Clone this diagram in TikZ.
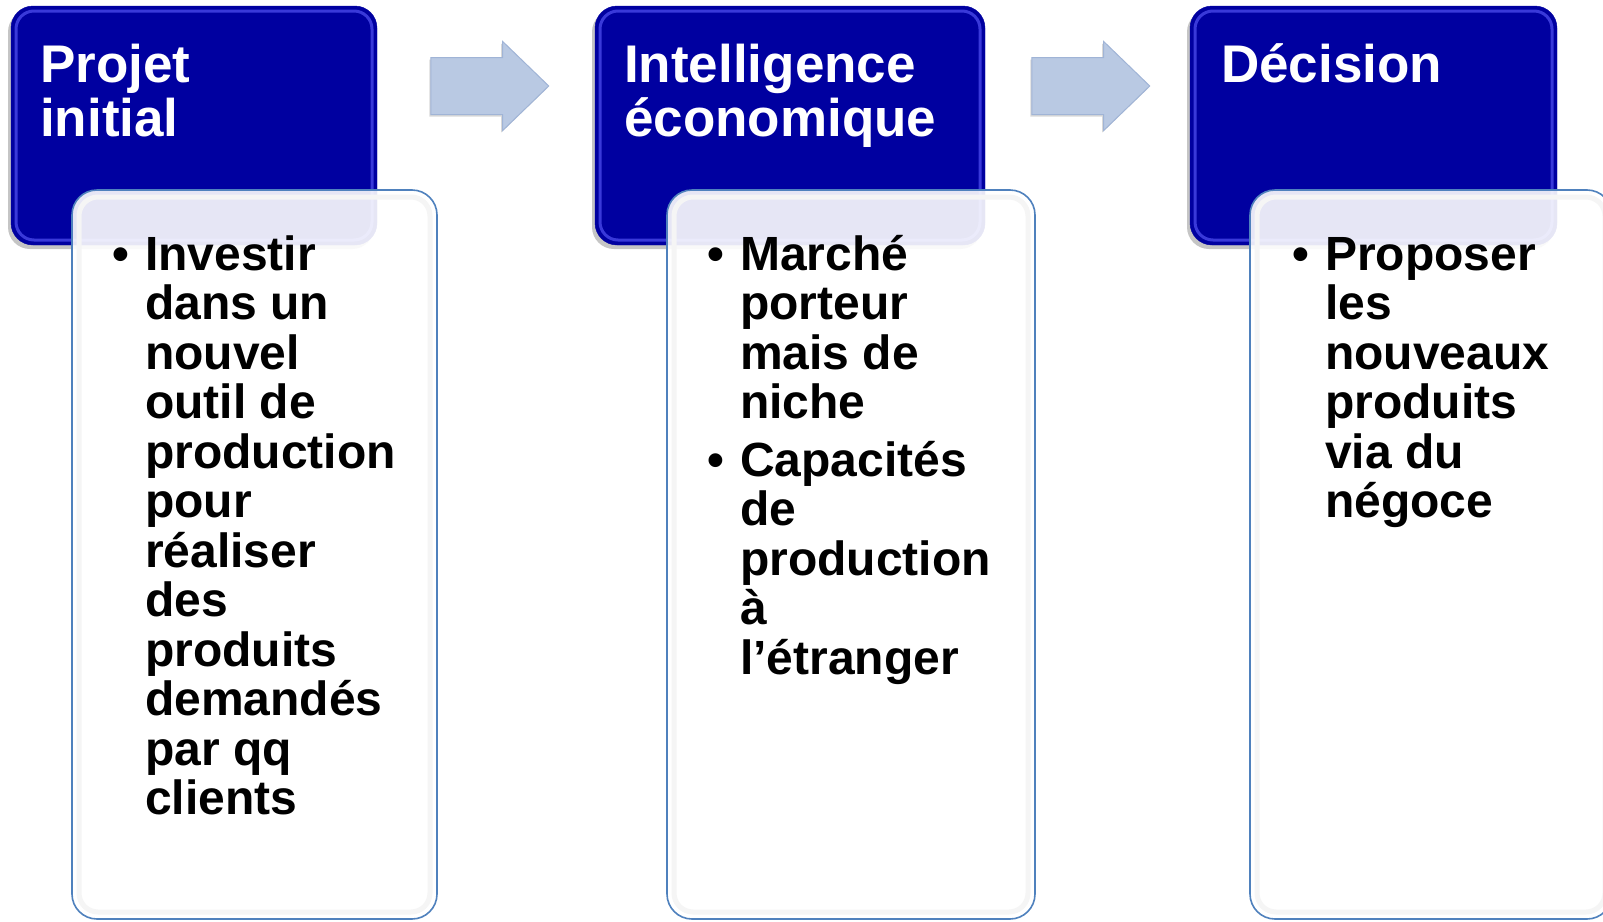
\documentclass[tikz,border=0pt]{standalone}
\usepackage{fontspec}
\setmainfont{Liberation Sans}
\usetikzlibrary{positioning,shapes.arrows,shadows}

\definecolor{navy}{RGB}{0,0,160}
\definecolor{navylight}{RGB}{95,95,255}
\definecolor{flowfill}{RGB}{185,201,227}
\definecolor{flowedge}{RGB}{160,180,214}
\definecolor{cardedge}{RGB}{79,129,189}

\newcommand{\bul}{\llap{\textbullet\hspace{16pt}}}

\begin{document}
\begin{tikzpicture}[x=1pt,y=-1pt]
\tikzstyle{stage}=[draw=navy,fill=navy,rounded corners=22pt,inner sep=0pt,outer sep=0pt,anchor=north west,minimum height=239pt,drop shadow={shadow xshift=-3pt,shadow yshift=-4pt,opacity=.45}]
\tikzstyle{bevel}=[draw=navylight,line width=3pt,rounded corners=18pt,opacity=.6]
\tikzstyle{title}=[text=white,font=\fontsize{53}{54}\selectfont\bfseries,align=left,inner sep=0pt,anchor=base west]
\tikzstyle{card}=[draw=cardedge,line width=1.6pt,fill=white,fill opacity=.9,rounded corners=25pt,inner sep=0pt,outer sep=0pt,minimum height=729pt]
\tikzstyle{glow}=[draw=black!4,line width=5pt,rounded corners=19pt]
\tikzstyle{body}=[font=\fontsize{48}{49.5}\selectfont\bfseries,align=left,inner sep=0pt,anchor=base west]
\tikzstyle{flow}=[single arrow,draw=flowedge,fill=flowfill,line width=1pt,minimum height=118pt,minimum width=88pt,single arrow head extend=16pt,single arrow tip angle=88,inner xsep=0pt,inner ysep=28pt,drop shadow={shadow xshift=-1.5pt,shadow yshift=-2pt,opacity=.3}]

\useasboundingbox[fill=white] (0,0) rectangle (1603,921);

% stages (a node's base is the baseline of its last line)
\node[stage,minimum width=366pt] (projet) at (11,6) {};
\node[stage,minimum width=390pt] (intel) at (595,6) {};
\node[stage,minimum width=367pt] (decision) at (1190,6) {};
\draw[bevel] ([shift={(5,5)}]projet.north west) rectangle ([shift={(-5,-5)}]projet.south east);
\draw[bevel] ([shift={(5,5)}]intel.north west) rectangle ([shift={(-5,-5)}]intel.south east);
\draw[bevel] ([shift={(5,5)}]decision.north west) rectangle ([shift={(-5,-5)}]decision.south east);

\node[title,below right=130pt and 29pt of projet.north west,anchor=base west] (projetT) {Projet\\initial};
\node[title,below right=130pt and 29pt of intel.north west,anchor=base west] (intelT) {Intelligence\\économique};
\node[title,below right=76pt and 31pt of decision.north west,anchor=base west] (decisionT) {Décision};

% arrows
\node[flow] (arr1) at (475,86) {};
\node[flow] (arr2) at (1076,86) {};

% cards
\node[card,minimum width=365pt,below right=184pt and 61pt of projet.north west] (projetB) {};
\node[card,minimum width=368pt,below right=184pt and 72pt of intel.north west] (intelB) {};
\node[card,minimum width=362pt,below right=184pt and 60pt of decision.north west] (decisionB) {};
\draw[glow] ([shift={(7,7)}]projetB.north west) rectangle ([shift={(-7,-7)}]projetB.south east);
\draw[glow] ([shift={(7,7)}]intelB.north west) rectangle ([shift={(-7,-7)}]intelB.south east);
\draw[glow] ([shift={(7,7)}]decisionB.north west) rectangle ([shift={(-7,-7)}]decisionB.south east);

\node[body,below right=624.5pt and 73pt of projetB.north west,anchor=base west] (projetL) {\bul Investir\\dans un\\nouvel\\outil de\\production\\pour\\réaliser\\des\\produits\\demandés\\par qq\\clients};
\node[body,below right=484pt and 73pt of intelB.north west,anchor=base west] (intelL) {\bul Marché\\porteur\\mais de\\niche\\[8pt]\bul Capacités\\de\\production\\à\\l’étranger};
\node[body,below right=327.5pt and 75pt of decisionB.north west,anchor=base west] (decisionL) {\bul Proposer\\les\\nouveaux\\produits\\via du\\négoce};
\end{tikzpicture}
\end{document}
